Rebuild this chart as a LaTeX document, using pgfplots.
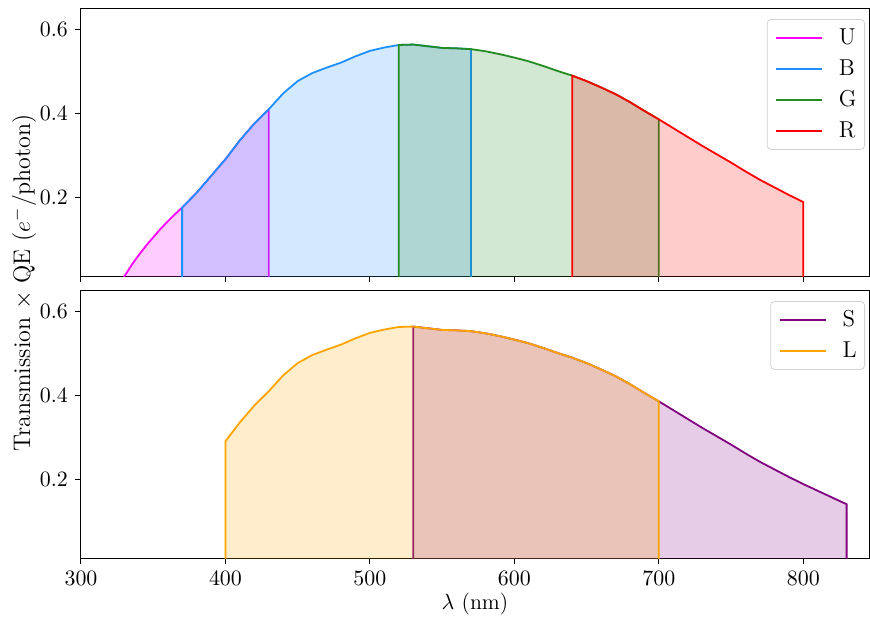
\documentclass[border=0pt]{standalone}
\usepackage{pgfplots}
\usepackage{pgfplotstable}
\pgfplotsset{compat=1.18}
\definecolor{cU}{HTML}{FF00FF}
\definecolor{cB}{HTML}{1E90FF}
\definecolor{cG}{HTML}{228B22}
\definecolor{cR}{HTML}{FF0000}
\definecolor{cS}{HTML}{800080}
\definecolor{cL}{HTML}{FFA500}

\pgfplotstableread{
x y
328 0.000
335 0.038
340 0.062
345 0.084
350 0.104
355 0.124
360 0.142
365 0.159
370 0.175
380 0.210
390 0.250
400 0.290
410 0.335
420 0.375
430 0.409
430 0
}\dataU
\pgfplotstableread{
x y
370 0
370 0.175
380 0.210
390 0.250
400 0.290
410 0.335
420 0.375
430 0.409
440 0.447
450 0.476
460 0.495
470 0.508
480 0.520
490 0.535
500 0.548
510 0.556
520 0.562
530 0.563
540 0.559
550 0.555
560 0.554
570 0.552
570 0
}\dataB
\pgfplotstableread{
x y
520 0
520 0.562
530 0.563
540 0.559
550 0.555
560 0.554
570 0.552
580 0.547
590 0.540
600 0.532
610 0.523
620 0.512
630 0.500
640 0.489
650 0.476
660 0.461
670 0.445
680 0.426
690 0.405
700 0.385
700 0
}\dataG
\pgfplotstableread{
x y
640 0
640 0.489
650 0.476
660 0.461
670 0.445
680 0.426
690 0.405
700 0.385
710 0.364
720 0.343
730 0.322
740 0.302
750 0.282
760 0.261
770 0.241
780 0.223
790 0.205
800 0.188
800 0
}\dataR
\pgfplotstableread{
x y
530 0
530 0.563
540 0.559
550 0.555
560 0.554
570 0.552
580 0.547
590 0.540
600 0.532
610 0.523
620 0.512
630 0.500
640 0.489
650 0.476
660 0.461
670 0.445
680 0.426
690 0.405
700 0.385
710 0.364
720 0.343
730 0.322
740 0.302
750 0.282
760 0.261
770 0.241
780 0.223
790 0.205
800 0.188
810 0.172
820 0.156
830 0.140
830 0
}\dataS
\pgfplotstableread{
x y
400 0
400 0.290
410 0.335
420 0.375
430 0.409
440 0.447
450 0.476
460 0.495
470 0.508
480 0.520
490 0.535
500 0.548
510 0.556
520 0.562
530 0.563
540 0.559
550 0.555
560 0.554
570 0.552
580 0.547
590 0.540
600 0.532
610 0.523
620 0.512
630 0.500
640 0.489
650 0.476
660 0.461
670 0.445
680 0.426
690 0.405
700 0.385
700 0
}\dataL

\pgfplotsset{
  panel/.style={
    width=394pt, height=134pt, scale only axis,
    xmin=300, xmax=845.5, ymin=0.012, ymax=0.65,
    xtick={300,400,...,800}, ytick={0.2,0.4,0.6},
    tick align=outside, major tick length=3pt,
    xtick pos=bottom, ytick pos=left,
    tick style={black, line width=0.5pt},
    axis line style={black, line width=0.5pt},
    ticklabel style={font=\fontsize{11}{13}\selectfont},
    yticklabel style={/pgf/number format/.cd, fixed, precision=1, fixed zerofill},
    legend cell align=left,
    legend image code/.code={\draw[##1, fill=none, line width=0.9pt] (0pt,0pt) -- (23pt,0pt);},
    legend style={at={(1,1)}, anchor=north east, xshift=-2pt, yshift=-5.5pt,
      draw=black!18, rounded corners=2pt, fill=white,
      font=\fontsize{11.5}{13}\selectfont,
      inner xsep=4pt, inner ysep=4pt, row sep=5pt, column sep=8pt,
      nodes={inner sep=0pt, text height=8.5pt, text depth=2pt}},
  },
  filt/.style={draw=#1, line width=0.9pt, fill=#1, fill opacity=0.2, draw opacity=1},
}

\begin{document}
\begin{tikzpicture}
\path[use as bounding box] (-40.5pt,4pt) rectangle (394.5pt,-304pt);
\begin{axis}[panel, at={(0pt,0pt)}, anchor=north west, xticklabels={}]
\addplot[filt=cU] table[x=x,y=y] {\dataU};
\addlegendentry{U}
\addplot[filt=cB] table[x=x,y=y] {\dataB};
\addlegendentry{B}
\addplot[filt=cG] table[x=x,y=y] {\dataG};
\addlegendentry{G}
\addplot[filt=cR] table[x=x,y=y] {\dataR};
\addlegendentry{R}
\end{axis}
\begin{axis}[panel, at={(0pt,-141pt)}, anchor=north west,
  xlabel={$\lambda$ (nm)}, xlabel style={font=\fontsize{11}{13}\selectfont, yshift=3pt}]
\addplot[filt=cS] table[x=x,y=y] {\dataS};
\addlegendentry{S}
\addplot[filt=cL] table[x=x,y=y] {\dataL};
\addlegendentry{L}
\end{axis}
\node[rotate=90, font=\fontsize{12}{14}\selectfont] at (-28.5pt,-137.5pt) {Transmission $\times$ QE ($e^{-}$/photon)};
\end{tikzpicture}
\end{document}
